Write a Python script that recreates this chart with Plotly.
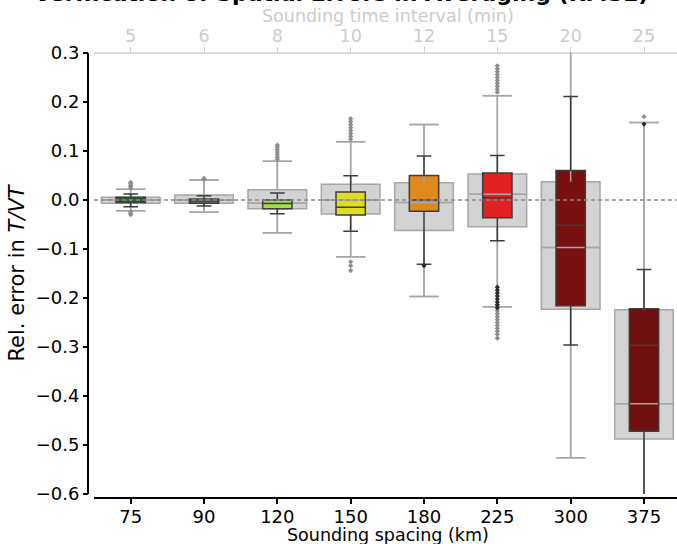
import plotly.graph_objects as go

# Sounding spacing categories and the matching sounding time intervals
spacing_km = ["75", "90", "120", "150", "180", "225", "300", "375"]
interval_min = ["5", "6", "8", "10", "12", "15", "20", "25"]

# Wide grey boxes: reference distribution of the relative error
grey_q1 = [-0.0068, -0.0068, -0.0177, -0.0286, -0.062, -0.0544, -0.223, -0.488]
grey_median = [0.0, 0.0, -0.0068, 0.0, -0.005, 0.0116, -0.097, -0.416]
grey_q3 = [0.0055, 0.0102, 0.021, 0.032, 0.035, 0.053, 0.0374, -0.224]
grey_low = [-0.0218, -0.025, -0.067, -0.116, -0.197, -0.218, -0.526, -0.70]
grey_high = [0.0218, 0.041, 0.079, 0.119, 0.154, 0.213, 0.36, 0.158]

# Narrow coloured boxes: relative error in T/VT
col_q1 = [-0.005, -0.0068, -0.0177, -0.0306, -0.023, -0.036, -0.2157, -0.472]
col_median = [0.0, -0.002, -0.007, -0.015, 0.0, 0.0048, -0.0517, -0.2966]
col_q3 = [0.0055, 0.002, 0.0, 0.0163, 0.050, 0.055, 0.060, -0.2218]
col_low = [-0.0136, -0.012, -0.028, -0.064, -0.131, -0.083, -0.296, -0.66]
col_high = [0.0122, 0.0088, 0.0143, 0.0497, 0.090, 0.091, 0.211, -0.142]
box_colors = ["#1d5e1d", "#5e8c5a", "#a2e23c", "#dede20",
              "#e08a1e", "#e02222", "#781010", "#6e1010"]

# Outliers beyond the whiskers
grey_outliers = {
    0: [0.024, 0.027, 0.030, 0.033, 0.036, -0.024, -0.027, -0.030],
    1: [0.042, 0.044],
    2: [0.083, 0.088, 0.093, 0.098, 0.103, 0.108, 0.112],
    3: [0.124, 0.130, 0.136, 0.142, 0.148, 0.154, 0.160, 0.166,
        -0.126, -0.134, -0.144],
    5: [0.220, 0.226, 0.232, 0.238, 0.244, 0.250, 0.256, 0.262, 0.268, 0.274,
        -0.226, -0.232, -0.238, -0.244, -0.250, -0.256, -0.262, -0.268,
        -0.274, -0.282],
    7: [0.170],
}
col_outliers = {
    4: [-0.134],
    5: [-0.178, -0.184, -0.190, -0.196, -0.202, -0.208, -0.214, -0.220],
    7: [0.155],
}

FONT = "DejaVu Sans"
GREY_FILL = "#d3d3d3"
GREY_LINE = "#a6a6a6"
DARK_LINE = "#3d3d3d"
TOP_GREY = "#d0d0d0"
GREY_W, COL_W, WHISK = 0.8, 0.4, 0.5

pos = list(range(len(spacing_km)))
fig = go.Figure()

# grey boxes (patches + their own lines)
fig.add_trace(go.Box(
    x=pos, q1=grey_q1, median=grey_median, q3=grey_q3,
    lowerfence=grey_low, upperfence=grey_high,
    width=GREY_W, whiskerwidth=WHISK, fillcolor=GREY_FILL,
    line=dict(color=GREY_LINE, width=1.5), boxpoints=False,
    showlegend=False, hoverinfo="skip", zorder=0))

# coloured box patches
for i in pos:
    fig.add_trace(go.Box(
        x=[i], q1=[col_q1[i]], median=[col_median[i]], q3=[col_q3[i]],
        lowerfence=[col_q1[i]], upperfence=[col_q3[i]],
        width=COL_W, whiskerwidth=WHISK, fillcolor=box_colors[i],
        line=dict(color=box_colors[i], width=0), boxpoints=False,
        showlegend=False, hoverinfo="skip", zorder=1))

# grey whiskers, caps and medians drawn over the coloured patches
gx, gy = [], []
for i in pos:
    half, cap = GREY_W / 2, GREY_W * WHISK / 2
    gx += [i - half, i + half, None]
    gy += [grey_median[i], grey_median[i], None]
    gx += [i, i, None, i, i, None]
    gy += [grey_q3[i], grey_high[i], None, grey_q1[i], grey_low[i], None]
    gx += [i - cap, i + cap, None, i - cap, i + cap, None]
    gy += [grey_high[i], grey_high[i], None, grey_low[i], grey_low[i], None]
fig.add_trace(go.Scatter(
    x=gx, y=gy, mode="lines", line=dict(color=GREY_LINE, width=1.5),
    showlegend=False, hoverinfo="skip", zorder=2))

# coloured box outlines, whiskers and medians on top
fig.add_trace(go.Box(
    x=pos, q1=col_q1, median=col_median, q3=col_q3,
    lowerfence=col_low, upperfence=col_high,
    width=COL_W, whiskerwidth=WHISK, fillcolor="rgba(0,0,0,0)",
    line=dict(color=DARK_LINE, width=1.5), boxpoints=False,
    showlegend=False, hoverinfo="skip", zorder=3))

# outlier markers
def outlier_xy(d):
    xs, ys = [], []
    for k, vals in d.items():
        xs += [k] * len(vals)
        ys += vals
    return xs, ys

ox, oy = outlier_xy(grey_outliers)
fig.add_trace(go.Scatter(
    x=ox, y=oy, mode="markers",
    marker=dict(symbol="diamond", size=4, color="#8c8c8c"),
    showlegend=False, hoverinfo="skip", zorder=4))
ox, oy = outlier_xy(col_outliers)
fig.add_trace(go.Scatter(
    x=ox, y=oy, mode="markers",
    marker=dict(symbol="diamond", size=4, color="#2b2b2b"),
    showlegend=False, hoverinfo="skip", zorder=5))

# invisible trace so the top (time interval) axis is drawn
fig.add_trace(go.Scatter(
    x=pos, y=[0] * len(pos), xaxis="x2", mode="markers",
    marker=dict(opacity=0), showlegend=False, hoverinfo="skip"))

W, H = 677, 544
ML, MR, MT, MB = 88, 0, 53, 46
pw, ph = W - ML - MR, H - MT - MB
x0_dom, y0_dom = 6 / pw, 4 / ph
xr = [-0.5, 7.45]
ytick = [-0.6, -0.5, -0.4, -0.3, -0.2, -0.1, 0.0, 0.1, 0.2, 0.3]


def px_to_paper_y(py):
    """Page pixel row -> paper y coordinate."""
    return (MT + ph - py) / ph


def px_to_paper_x(px):
    return (px - ML) / pw


# zero reference line
fig.add_shape(type="line", xref="x domain", yref="y", x0=0, x1=1, y0=0, y1=0,
              line=dict(color="#8a8a8a", width=1.3, dash="4px,3px"),
              layer="above")
# offset spines: left (y), bottom (x) and the light top axis line
fig.add_shape(type="line", xref="paper", yref="paper", x0=0, x1=0,
              y0=y0_dom, y1=1, line=dict(color="black", width=2),
              layer="above")
fig.add_shape(type="line", xref="paper", yref="paper", x0=x0_dom, x1=1,
              y0=0, y1=0, line=dict(color="black", width=2), layer="above")
fig.add_shape(type="line", xref="paper", yref="paper", x0=x0_dom, x1=1,
              y0=1, y1=1, line=dict(color=TOP_GREY, width=1.5), layer="below")

fig.update_layout(
    width=W, height=H,
    margin=dict(l=ML, r=MR, t=MT, b=MB, pad=0),
    paper_bgcolor="white", plot_bgcolor="white",
    boxmode="overlay",
    font=dict(family=FONT, size=18, color="black"),
    xaxis=dict(
        domain=[x0_dom, 1], range=xr, anchor="free", position=0,
        tickmode="array", tickvals=pos, ticktext=spacing_km,
        showline=False, ticklabelstandoff=-3,
        ticks="outside", ticklen=5, tickwidth=1.5, tickcolor="black",
        showgrid=False, zeroline=False,
        tickfont=dict(family=FONT, size=18, color="black"),
    ),
    xaxis2=dict(
        domain=[x0_dom, 1], range=xr, overlaying="x", side="top",
        anchor="free", position=1,
        tickmode="array", tickvals=pos, ticktext=interval_min,
        showline=False, ticklabelstandoff=-2,
        ticks="outside", ticklen=6, tickwidth=1.3, tickcolor=TOP_GREY,
        showgrid=False, zeroline=False,
        tickfont=dict(family=FONT, size=17.5, color="#cccccc"),
    ),
    yaxis=dict(
        domain=[y0_dom, 1], range=[-0.6, 0.3], anchor="free", position=0,
        tickmode="array", tickvals=ytick,
        ticktext=[f"{v:.1f}".replace("-", "\u2212") for v in ytick],
        showline=False,
        ticks="outside", ticklen=5, tickwidth=1.5, tickcolor="black",
        showgrid=False, zeroline=False,
        tickfont=dict(family=FONT, size=18, color="black"),
        title=dict(text="Rel. error in <i>T/VT</i>", standoff=4,
                   font=dict(family=FONT, size=21, color="black")),
    ),
)

# axis titles for the bottom and top x axes
fig.add_annotation(
    text="Sounding spacing (km)", xref="paper", yref="paper",
    x=px_to_paper_x(388), y=px_to_paper_y(535), xanchor="center",
    yanchor="middle", showarrow=False,
    font=dict(family=FONT, size=17.5, color="black"))
fig.add_annotation(
    text="Sounding time interval (min)", xref="paper", yref="paper",
    x=px_to_paper_x(388), y=px_to_paper_y(16), xanchor="center",
    yanchor="middle", showarrow=False,
    font=dict(family=FONT, size=17.5, color="#cccccc"))

# figure title, running off the top edge of the page
fig.add_annotation(
    text="<b>Verification of Spatial Errors in Averaging (RMSE)</b>",
    xref="paper", yref="paper", x=px_to_paper_x(341), y=px_to_paper_y(8),
    xanchor="center", yanchor="bottom", showarrow=False,
    font=dict(family=FONT, size=22, color="black"))

fig.write_html("out.html")
